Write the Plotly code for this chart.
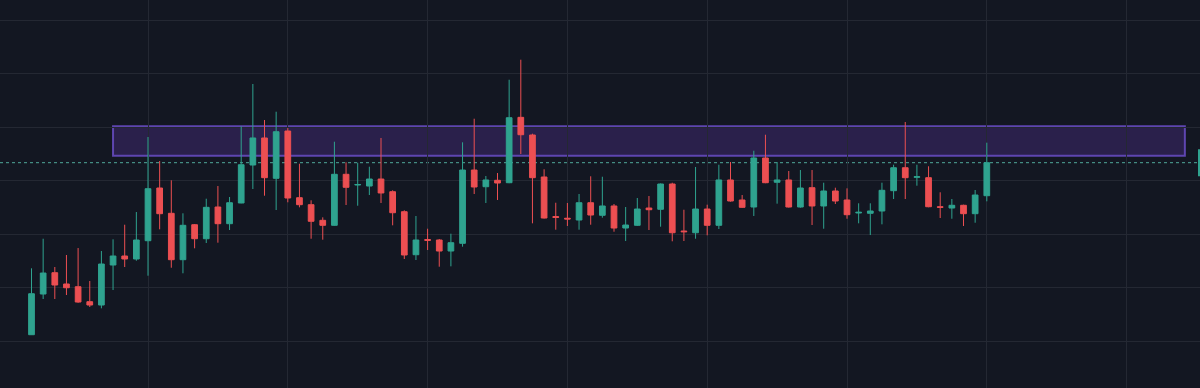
import plotly.graph_objects as go

# candle index (one per session)
idx = list(range(83))

opens = [51.23, 58.84, 62.82, 60.71, 60.20, 57.40, 56.78, 64.26, 65.94, 65.38,
         68.80, 78.65, 73.92, 65.25, 71.79, 69.17, 75.10, 71.98, 75.85, 82.95,
         88.00, 80.46, 89.30, 76.84, 75.53, 72.61, 71.68, 81.21, 79.21, 79.02,
         80.33, 77.96, 74.22, 66.18, 69.02, 68.93, 66.87, 68.31, 82.01, 78.89,
         80.09, 79.64, 91.86, 88.56, 80.71, 73.32, 73.00, 72.67, 75.90, 73.55,
         75.29, 71.17, 71.68, 74.91, 74.67, 79.40, 70.61, 70.29, 74.72, 71.68,
         80.15, 76.41, 75.10, 84.26, 79.72, 80.15, 75.10, 78.71, 75.29, 78.09,
         76.41, 73.98, 73.92, 74.35, 78.15, 82.44, 80.65, 80.58, 75.15, 74.91,
         75.42, 73.85, 77.21]
highs = [63.64, 69.17, 63.88, 66.13, 67.43, 61.27, 66.87, 69.06, 71.79, 74.16,
         88.18, 83.70, 80.09, 73.92, 71.92, 76.65, 79.02, 76.97, 90.18, 98.09,
         91.36, 92.91, 89.86, 83.19, 76.35, 73.17, 87.30, 83.45, 83.38, 82.63,
         88.00, 78.22, 74.48, 73.42, 71.04, 69.12, 70.11, 87.19, 91.60, 80.89,
         81.45, 98.89, 102.63, 88.80, 82.15, 75.90, 75.85, 77.53, 80.84, 80.76,
         75.66, 75.10, 76.78, 77.15, 79.50, 79.64, 74.59, 82.58, 75.53, 83.00,
         83.51, 77.34, 85.62, 88.61, 83.51, 81.83, 82.01, 82.01, 79.64, 78.71,
         78.59, 75.79, 75.79, 79.64, 83.00, 90.99, 83.00, 82.71, 77.85, 76.59,
         75.53, 78.28, 87.12]
lows = [51.20, 57.90, 57.90, 58.65, 57.20, 56.41, 56.16, 59.58, 63.88, 65.06,
        62.26, 70.93, 63.75, 62.71, 67.38, 68.37, 68.43, 70.80, 75.80, 78.46,
        77.21, 74.54, 75.98, 75.04, 69.17, 68.99, 71.60, 75.47, 75.34, 77.34,
        75.85, 71.68, 65.38, 65.19, 67.06, 63.94, 64.01, 67.68, 77.53, 75.85,
        76.41, 79.55, 85.00, 72.05, 72.95, 70.86, 71.55, 70.86, 71.79, 73.10,
        70.48, 68.74, 71.55, 70.80, 71.42, 68.69, 68.74, 69.17, 69.81, 70.99,
        76.10, 74.95, 73.42, 79.55, 75.72, 75.00, 74.97, 71.73, 71.04, 75.66,
        72.91, 72.05, 69.86, 71.86, 76.59, 76.59, 79.08, 75.05, 73.04, 72.91,
        71.55, 72.16, 76.16]
closes = [58.89, 62.76, 60.52, 60.01, 57.34, 56.78, 64.44, 65.94, 65.38, 68.93,
          78.52, 73.85, 65.25, 71.68, 69.17, 75.04, 71.98, 75.90, 83.00, 88.00,
          80.58, 89.17, 76.78, 75.53, 72.43, 71.68, 81.21, 78.78, 79.30, 80.33,
          77.72, 74.03, 66.13, 68.93, 68.87, 66.87, 68.43, 82.01, 78.84, 80.15,
          79.58, 91.79, 88.61, 80.58, 73.04, 73.14, 72.86, 75.90, 73.60, 75.29,
          71.17, 71.73, 74.72, 74.59, 79.40, 70.29, 70.48, 74.72, 71.68, 80.15,
          76.22, 75.04, 84.26, 79.64, 80.15, 75.10, 78.65, 75.29, 78.09, 76.22,
          73.66, 74.11, 74.35, 78.22, 82.44, 80.58, 80.76, 75.15, 75.04, 75.42,
          73.85, 77.34, 83.38]

# vertical time-grid positions (candle index)
x_grid = [10, 22, 34, 46, 58, 70, 82, 94]
# horizontal price-grid levels
y_grid = [50, 60, 70, 80, 90, 100, 110]

# resistance zone (start index, end index, lower price, upper price)
zone_x = [7, 99]
zone_y = [84.7, 90.2]

# visible window
y_range = [41.27, 113.79]
x_range = [-2.704, 100.30]

BG = "#131722"
GRID = "#242833"
UP = "#2fa38f"
DOWN = "#ec4f52"

fig = go.Figure()
fig.add_trace(go.Candlestick(
    x=idx, open=opens, high=highs, low=lows, close=closes,
    increasing=dict(line=dict(color=UP, width=1), fillcolor=UP),
    decreasing=dict(line=dict(color=DOWN, width=1), fillcolor=DOWN),
    whiskerwidth=0, showlegend=False, hoverinfo="skip",
))

# zone rectangle
fig.add_shape(type="rect", xref="x", yref="y",
              x0=zone_x[0], x1=zone_x[1], y0=zone_y[0], y1=zone_y[1],
              fillcolor="rgba(103,58,183,0.28)",
              line=dict(color="#5e45b0", width=2), layer="below")

# last price dotted line
last = closes[-1]
fig.add_shape(type="line", xref="paper", yref="y", x0=0, x1=1, y0=last, y1=last,
              line=dict(color="#4fa89a", width=1, dash="dot"), layer="below")

# price label stub at right edge
fig.add_shape(type="rect", xref="paper", yref="y",
              xsizemode="pixel", ysizemode="pixel",
              xanchor=1, x0=-2, x1=10, yanchor=last, y0=-13.5, y1=13.5,
              fillcolor=UP, line=dict(width=0))

fig.update_layout(
    width=1200, height=388,
    margin=dict(l=0, r=0, t=0, b=0),
    paper_bgcolor=BG, plot_bgcolor=BG,
    showlegend=False, hovermode=False,
    boxgap=0.3,
    xaxis=dict(range=x_range, rangeslider=dict(visible=False),
               showticklabels=False, ticks="", zeroline=False, showline=False,
               showgrid=True, gridcolor=GRID, gridwidth=1,
               tickmode="array", tickvals=x_grid),
    yaxis=dict(range=y_range, showticklabels=False, ticks="", zeroline=False,
               showline=False, showgrid=True, gridcolor=GRID, gridwidth=1,
               tickmode="array", tickvals=y_grid),
)

fig.write_html("out.html", config={"displayModeBar": False},
               post_script="document.body.style.margin='0';document.body.style.background='#131722';")
